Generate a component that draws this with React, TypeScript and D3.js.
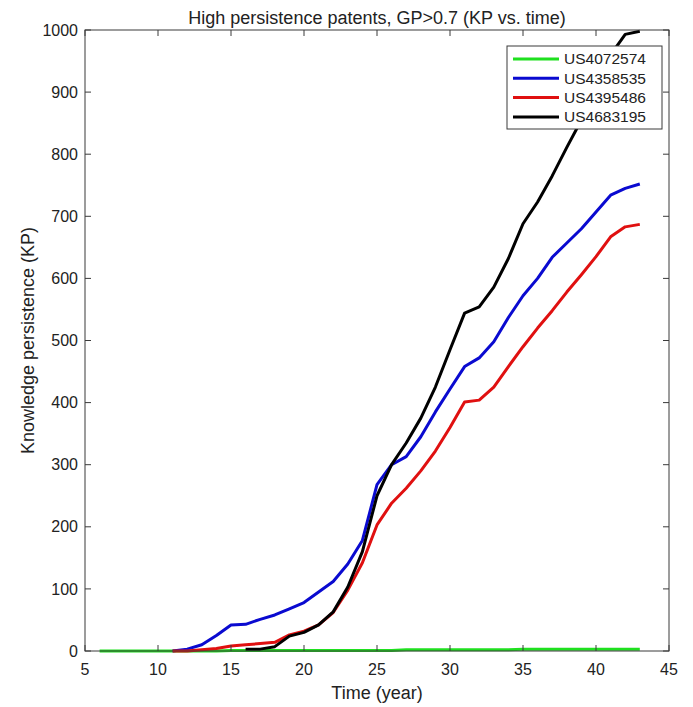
import React from "react";
import * as d3 from "d3";

const seriesNames = ["US4072574", "US4358535", "US4395486", "US4683195"];
const seriesColors = ["#1fe01f", "#0a0ad0", "#e01010", "#000000"];

const greenYears = d3.range(6, 44);
const greenValues = [0, 0, 0, 0, 0, 0, 0, 0, 0, 1, 1, 1, 1, 1, 1, 1, 1, 1, 1, 1, 1, 2, 2, 2, 2, 2, 2, 2, 2, 3, 3, 3, 3, 3, 3, 3, 3, 3];

const blueYears = d3.range(11, 44);
const blueValues = [0, 3, 10, 25, 42, 43, 51, 58, 68, 78, 95, 112, 140, 178, 268, 300, 313, 345, 385, 422, 458, 472, 498, 537, 572, 600, 634, 657, 680, 707, 734, 745, 752];

const redYears = d3.range(11, 44);
const redValues = [0, 0, 2, 4, 8, 10, 12, 14, 26, 32, 42, 62, 98, 142, 203, 238, 262, 290, 322, 360, 401, 404, 425, 458, 490, 520, 548, 578, 606, 635, 667, 683, 687];

const blackYears = d3.range(16, 44);
const blackValues = [3, 3, 7, 24, 30, 42, 63, 103, 160, 250, 300, 335, 375, 425, 485, 544, 554, 586, 632, 688, 723, 765, 811, 855, 905, 960, 993, 998];

const xTicks = [5, 10, 15, 20, 25, 30, 35, 40, 45];
const yTicks = [0, 100, 200, 300, 400, 500, 600, 700, 800, 900, 1000];

const W = 693, H = 707;
const L = 85, R = 669, T = 30, B = 651;
const FONT = "'Liberation Sans', Arial, Helvetica, sans-serif";
const AX = "#3a3a3a";

export default function App() {
  const x = d3.scaleLinear().domain([5, 45]).range([L, R]);
  const y = d3.scaleLinear().domain([0, 1000]).range([B, T]);
  const line = d3.line<[number, number]>().x(d => x(d[0])).y(d => y(d[1]));
  const series = [
    { years: greenYears, values: greenValues },
    { years: blueYears, values: blueValues },
    { years: redYears, values: redValues },
    { years: blackYears, values: blackValues },
  ];
  const tl = 6;
  return (
    <svg width={W} height={H} style={{ position: "absolute", left: 0, top: 0, background: "#fff" }} fontFamily={FONT}>
      <rect x={0} y={0} width={W} height={H} fill="#fff" />
      <text x={(L + R) / 2} y={24} textAnchor="middle" fontSize={18} fill="#222">High persistence patents, GP&gt;0.7 (KP vs. time)</text>
      {/* lines */}
      <g>
        {series.map((s, i) => (
          <path key={i}
            d={line(s.years.map((yr, j) => [yr, s.values[j]] as [number, number])) || ""}
            fill="none" stroke={seriesColors[i]} strokeWidth={3} strokeLinejoin="round" />
        ))}
      </g>
      {/* axes box */}
      <rect x={L} y={T} width={R - L} height={B - T} fill="none" stroke={AX} strokeWidth={1} />
      {xTicks.map(t => (
        <g key={"x" + t}>
          <line x1={x(t)} x2={x(t)} y1={B} y2={B - tl} stroke={AX} />
          <line x1={x(t)} x2={x(t)} y1={T} y2={T + tl} stroke={AX} />
          <text x={x(t)} y={675} textAnchor="middle" fontSize={16} fill="#222">{t}</text>
        </g>
      ))}
      {yTicks.map(t => (
        <g key={"y" + t}>
          <line x1={L} x2={L + tl} y1={y(t)} y2={y(t)} stroke={AX} />
          <line x1={R} x2={R - tl} y1={y(t)} y2={y(t)} stroke={AX} />
          <text x={78} y={y(t)} dy="0.35em" textAnchor="end" fontSize={16} fill="#222">{t}</text>
        </g>
      ))}
      <text x={(L + R) / 2} y={699} textAnchor="middle" fontSize={18} fill="#222">Time (year)</text>
      <text transform={`translate(28,${(T + B) / 2}) rotate(-90)`} dy="0.35em" textAnchor="middle" fontSize={18} fill="#222">Knowledge persistence (KP)</text>
      {/* legend */}
      <g>
        <rect x={507} y={46} width={155} height={83} fill="#fff" stroke={AX} strokeWidth={1} />
        {seriesNames.map((n, i) => (
          <g key={n}>
            <line x1={513} x2={559} y1={59 + i * 19.3} y2={59 + i * 19.3} stroke={seriesColors[i]} strokeWidth={3} />
            <text x={564} y={59 + i * 19.3} dy="0.35em" fontSize={15.5} fill="#222">{n}</text>
          </g>
        ))}
      </g>
    </svg>
  );
}
